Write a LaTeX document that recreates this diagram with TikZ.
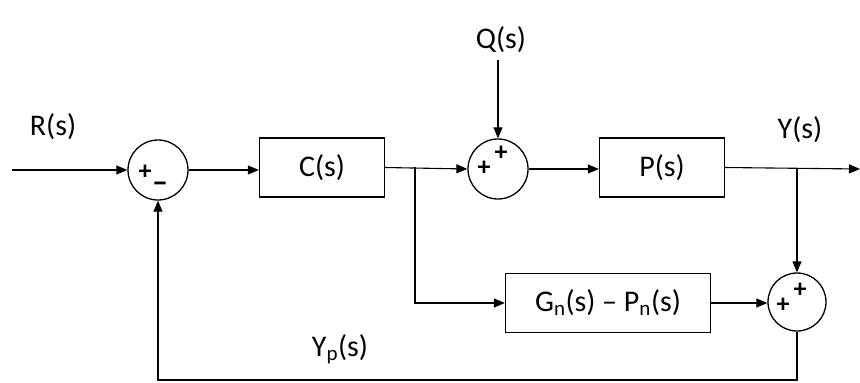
\documentclass[tikz,border=0pt]{standalone}
\usepackage{fontspec}
\setmainfont{Carlito}
\usetikzlibrary{arrows.meta}
\begin{document}
\begin{tikzpicture}[x=1pt,y=-1pt,
  blk/.style={draw,line width=1.3pt,minimum width=125pt,minimum height=59pt,font=\fontsize{30}{34}\selectfont,inner sep=0pt},
  sumc/.style={draw,circle,line width=1.3pt,minimum size=60pt,inner sep=0pt},
  lbl/.style={font=\fontsize{30}{34}\selectfont,inner sep=0pt},
  sgn/.style={font=\fontsize{26}{30}\selectfont\bfseries,inner sep=0pt},
  conn/.style={line width=1.1pt},
  arr/.style={conn,-{Triangle[length=11pt,width=9pt]}}]
\useasboundingbox (0,0) rectangle (860,383);
\node[sumc] (s1) at (158,170) {};
\node[blk] (c) at (322,167.5) {C(s)};
\node[sumc] (s2) at (498,169) {};
\node[blk] (p) at (662,167.5) {P(s)};
\node[blk,minimum width=205pt] (g) at (608,303) {G\textsubscript{n}(s) – P\textsubscript{n}(s)};
\node[sumc,minimum size=58pt] (s3) at (797,302) {};
\node[sgn] (s1a) at (145,172) {+};
\node[sgn,font=\fontsize{32}{34}\selectfont\bfseries] (s1b) at (160,187) {–};
\node[sgn] (s2a) at (484,168) {+};
\node[sgn] (s2b) at (501,153) {+};
\node[sgn] (s3a) at (783,305) {+};
\node[sgn] (s3b) at (800,290) {+};
\node[lbl] (r) at (53,127) {R(s)};
\node[lbl] (q) at (501,40) {Q(s)};
\node[lbl] (y) at (800,130) {Y(s)};
\node[lbl] (yp) at (340,349) {Y\textsubscript{p}(s)};
\coordinate (in) at (12,170);
\coordinate (qs) at (498,60);
\coordinate (out) at (860,169);
\coordinate (br1) at (415,167);
\coordinate (br2) at (797,169);
\coordinate (bot) at (797,380);
\draw[arr] (in) -- (s1.west);
\draw[arr] (s1.east) -- (c.west |- s1.east);
\draw[arr] (c.east) -- (s2.west);
\draw[arr] (qs) -- (s2.north);
\draw[arr] (s2.east) -- (p.west |- s2.east);
\draw[arr] (p.east) -- (out);
\draw[arr] (br2) -- (s3.north);
\draw[arr] (br1) |- (g.west);
\draw[arr] (g.east) -- (s3.west |- g.east);
\draw[arr] (s3.south) -- (bot) -| (s1.south);
\end{tikzpicture}
\end{document}
